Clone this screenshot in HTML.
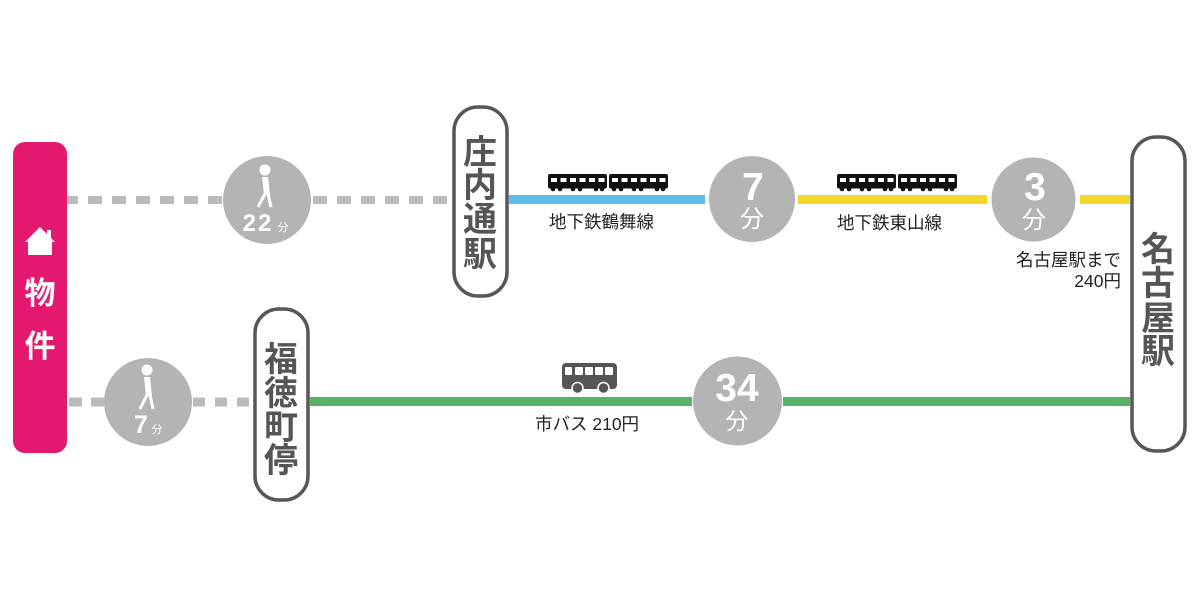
<!DOCTYPE html>
<html><head><meta charset="utf-8"><style>
html,body{margin:0;padding:0;background:#fff;width:1200px;height:607px;overflow:hidden}
svg{display:block}
text{font-family:"Liberation Sans","Noto Sans CJK JP",sans-serif}
.jp{font-family:"Noto Sans CJK JP","Liberation Sans",sans-serif}
</style></head><body>
<svg width="1200" height="607" viewBox="0 0 1200 607" xmlns="http://www.w3.org/2000/svg">
<rect width="1200" height="607" fill="#fff"/>

<!-- dashed walk lines -->
<line x1="67" y1="200" x2="223" y2="200" stroke="#BBBBBB" stroke-width="8" stroke-dasharray="14 10" stroke-dashoffset="3"/>
<line x1="312" y1="200" x2="452" y2="200" stroke="#BBBBBB" stroke-width="8" stroke-dasharray="14 10" stroke-dashoffset="-1"/>
<line x1="67" y1="402" x2="104" y2="402" stroke="#BBBBBB" stroke-width="9" stroke-dasharray="13 9" stroke-dashoffset="-2"/>
<line x1="193" y1="402" x2="253" y2="402" stroke="#BBBBBB" stroke-width="9" stroke-dasharray="12 10"/>

<!-- colored lines -->
<rect x="509" y="195" width="196" height="9" fill="#5BBEEB"/>
<rect x="798" y="195" width="189" height="9" fill="#F3D82A"/>
<rect x="1080" y="195" width="50" height="9" fill="#F3D82A"/>
<rect x="310" y="397" width="382" height="9" fill="#58B36A"/>
<rect x="783" y="397" width="347" height="9" fill="#58B36A"/>

<!-- pink property box -->
<rect x="13" y="142" width="54" height="311" rx="12" fill="#E5186F"/>
<polygon points="40,227 25,242 55,242" fill="#fff"/>
<rect x="47" y="230" width="4" height="8" fill="#fff"/>
<rect x="28" y="241" width="24" height="14" fill="#fff"/>
<text x="40" y="304" text-anchor="middle" font-size="31" font-weight="bold" fill="#fff" class="jp">物</text>
<text x="40" y="357" text-anchor="middle" font-size="31" font-weight="bold" fill="#fff" class="jp">件</text>

<!-- walk circle 22分 -->
<circle cx="267" cy="200" r="44" fill="#B4B4B4"/>
<circle cx="265" cy="170" r="5.5" fill="#fff"/>
<polygon points="262,177 268,177 270,195 264,195" fill="#fff"/>
<line x1="265" y1="194" x2="258" y2="207" stroke="#fff" stroke-width="3"/>
<line x1="268" y1="194" x2="271" y2="207" stroke="#fff" stroke-width="3"/>
<text x="258" y="231" text-anchor="middle" font-size="24" font-weight="bold" fill="#fff" letter-spacing="2">22</text>
<text x="283" y="231" text-anchor="middle" font-size="11" fill="#fff" class="jp">分</text>

<!-- walk circle 7分 -->
<circle cx="148" cy="402" r="44" fill="#B4B4B4"/>
<circle cx="147" cy="370" r="5.5" fill="#fff"/>
<polygon points="144,377 150,377 152,396 146,396" fill="#fff"/>
<line x1="147" y1="395" x2="140" y2="409" stroke="#fff" stroke-width="3"/>
<line x1="150" y1="395" x2="153" y2="409" stroke="#fff" stroke-width="3"/>
<text x="141" y="433" text-anchor="middle" font-size="25" font-weight="bold" fill="#fff">7</text>
<text x="157" y="433" text-anchor="middle" font-size="11" fill="#fff" class="jp">分</text>

<!-- big time circles -->
<circle cx="752" cy="199" r="43" fill="#B4B4B4"/>
<text x="753" y="200" text-anchor="middle" font-size="39" font-weight="bold" fill="#fff">7</text>
<text x="752" y="227" text-anchor="middle" font-size="24" fill="#fff" class="jp">分</text>

<circle cx="1033.5" cy="199.5" r="42" fill="#B4B4B4"/>
<text x="1035" y="200" text-anchor="middle" font-size="39" font-weight="bold" fill="#fff">3</text>
<text x="1034" y="228" text-anchor="middle" font-size="24" fill="#fff" class="jp">分</text>

<circle cx="737.5" cy="401" r="44.5" fill="#B4B4B4"/>
<text x="737" y="401" text-anchor="middle" font-size="39" font-weight="bold" fill="#fff">34</text>
<text x="737" y="429" text-anchor="middle" font-size="23" fill="#fff" class="jp">分</text>

<!-- station boxes -->
<rect x="454" y="107" width="53" height="189" rx="24" fill="#fff" stroke="#575757" stroke-width="3.5"/>
<g font-size="34" font-weight="bold" fill="#555" text-anchor="middle" class="jp">
<text x="480" y="164">庄</text>
<text x="480" y="197">内</text>
<text x="480" y="231">通</text>
<text x="480" y="266">駅</text>
</g>
<rect x="255" y="309" width="53" height="191" rx="24" fill="#fff" stroke="#575757" stroke-width="3.5"/>
<g font-size="34" font-weight="bold" fill="#555" text-anchor="middle" class="jp">
<text x="281" y="371">福</text>
<text x="281" y="405">徳</text>
<text x="281" y="439">町</text>
<text x="281" y="472">停</text>
</g>
<rect x="1132" y="137" width="53" height="314" rx="24" fill="#fff" stroke="#575757" stroke-width="3.5"/>
<g font-size="34" font-weight="bold" fill="#555" text-anchor="middle" class="jp">
<text x="1158" y="261">名</text>
<text x="1158" y="295">古</text>
<text x="1158" y="330">屋</text>
<text x="1158" y="363">駅</text>
</g>

<!-- trains -->
<g id="tr1" fill="#111">
<rect x="548" y="174" width="59" height="14.5" rx="2"/>
<rect x="609" y="174" width="59" height="14.5" rx="2"/>
<g fill="#fff">
<rect x="551" y="178" width="6" height="4"/><rect x="560.5" y="178" width="6" height="4"/><rect x="570" y="178" width="6" height="4"/><rect x="579.5" y="178" width="6" height="4"/><rect x="589" y="178" width="6" height="4"/><rect x="598.5" y="178" width="6" height="4"/>
<rect x="612" y="178" width="6" height="4"/><rect x="621.5" y="178" width="6" height="4"/><rect x="631" y="178" width="6" height="4"/><rect x="640.5" y="178" width="6" height="4"/><rect x="650" y="178" width="6" height="4"/><rect x="659.5" y="178" width="6" height="4"/>
</g>
<circle cx="553" cy="189" r="2.3"/><circle cx="560" cy="189" r="2.3"/><circle cx="573" cy="189" r="2.3"/><circle cx="580" cy="189" r="2.3"/><circle cx="596" cy="189" r="2.3"/><circle cx="602" cy="189" r="2.3"/>
<circle cx="614" cy="189" r="2.3"/><circle cx="621" cy="189" r="2.3"/><circle cx="634" cy="189" r="2.3"/><circle cx="641" cy="189" r="2.3"/><circle cx="657" cy="189" r="2.3"/><circle cx="663" cy="189" r="2.3"/>
</g>
<use href="#tr1" x="289" y="0"/>

<!-- bus -->
<rect x="562" y="363" width="55" height="26" rx="4" fill="#555"/>
<g fill="#fff">
<rect x="565" y="367" width="7" height="8" rx="1"/><rect x="575" y="367" width="8" height="8" rx="1"/><rect x="585" y="367" width="8" height="8" rx="1"/><rect x="595" y="367" width="8" height="8" rx="1"/><rect x="605" y="367" width="8" height="8" rx="1"/>
</g>
<circle cx="577.5" cy="388" r="5.5" fill="#555" stroke="#fff" stroke-width="1.5"/>
<circle cx="603.5" cy="388" r="5.5" fill="#555" stroke="#fff" stroke-width="1.5"/>

<!-- labels -->
<g font-size="17.5" fill="#222" class="jp">
<text x="549" y="228">地下鉄鶴舞線</text>
<text x="837" y="229">地下鉄東山線</text>
<text x="1121" y="266" text-anchor="end">名古屋駅まで</text>
<text x="1121" y="287" text-anchor="end">240円</text>
<text x="535" y="430">市バス 210円</text>
</g>
</svg>
</body></html>
